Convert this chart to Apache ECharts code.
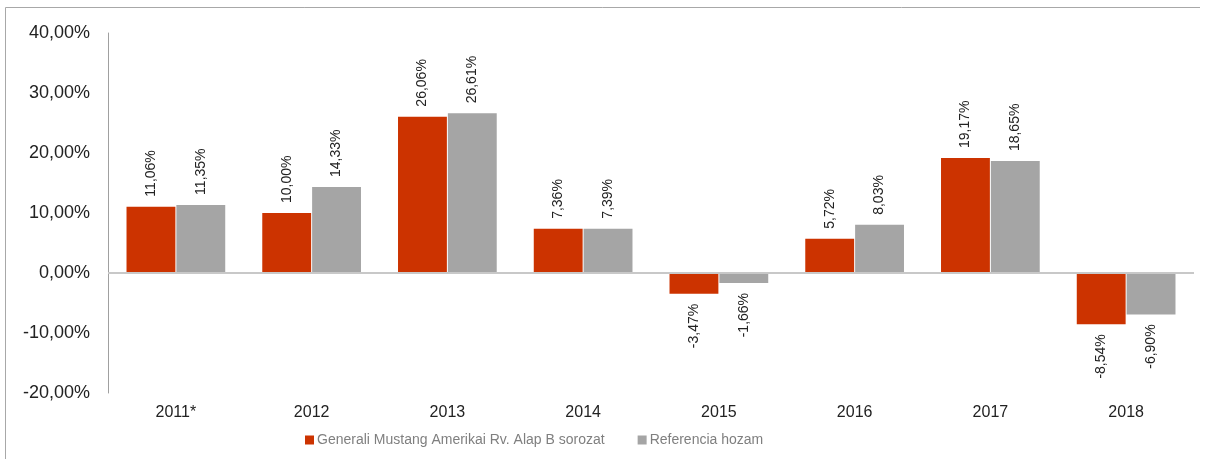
<!DOCTYPE html>
<html><head><meta charset="utf-8">
<script src="https://cdn.jsdelivr.net/npm/echarts@6/dist/echarts.min.js"></script>
<style>html,body{margin:0;padding:0;background:#fff;}#c{width:1210px;height:459px;}</style>
</head><body><div id="c"></div>
<script>
const categories = ['2011*','2012','2013','2014','2015','2016','2017','2018'];
const fundValues = [11.06, 10.00, 26.06, 7.36, -3.47, 5.72, 19.17, -8.54];
const refValues = [11.35, 14.33, 26.61, 7.39, -1.66, 8.03, 18.65, -6.90];
const seriesNames = ['Generali Mustang Amerikai Rv. Alap B sorozat', 'Referencia hozam'];
const yTicks = { min: -20, max: 40, interval: 10 };

const fmt = v => v.toFixed(2).replace('.', ',') + '%';
const FONT = "'Liberation Sans', Arial, sans-serif";

function makeData(vals) {
  return vals.map(v => ({
    value: v,
    label: v >= 0
      ? { position: 'top', align: 'left', verticalAlign: 'middle' }
      : { position: 'bottom', align: 'right', verticalAlign: 'middle' }
  }));
}
const labelBase = {
  show: true, rotate: 90, distance: 10, fontSize: 14, color: '#222', fontFamily: FONT,
  formatter: p => fmt(p.value)
};

const chart = echarts.init(document.getElementById('c'), null, { renderer: 'canvas' });
chart.setOption({
  animation: false,
  backgroundColor: '#fff',
  grid: { left: 108, right: 16, top: 33, bottom: 66, containLabel: false },
  legend: {
    left: 300, top: 428, itemWidth: 9, itemHeight: 9, itemGap: 33,
    icon: 'rect',
    textStyle: { fontSize: 14, color: '#7f7f7f', fontFamily: FONT, padding: [0, 0, 0, -2] },
    data: seriesNames
  },
  xAxis: {
    type: 'category', data: categories,
    axisLine: { show: false }, axisTick: { show: false },
    axisLabel: { fontSize: 16, color: '#222', fontFamily: FONT, margin: 12 }
  },
  yAxis: {
    type: 'value', min: yTicks.min, max: yTicks.max, interval: yTicks.interval,
    axisLine: { show: true, lineStyle: { color: '#a0a0a0', width: 1 } },
    axisTick: { show: false }, splitLine: { show: false },
    axisLabel: { fontSize: 18, color: '#222', fontFamily: FONT, margin: 18, formatter: v => fmt(v) }
  },
  series: [
    {
      name: seriesNames[0], type: 'bar', data: makeData(fundValues),
      barWidth: '36%', barGap: '2%',
      itemStyle: { color: '#CC3300' },
      label: labelBase,
      markLine: {
        silent: true, symbol: 'none', label: { show: false },
        lineStyle: { color: '#c8c8c8', type: 'solid', width: 2 },
        data: [{ yAxis: 0 }]
      },
      z: 2
    },
    {
      name: seriesNames[1], type: 'bar', data: makeData(refValues),
      barWidth: '36%',
      itemStyle: { color: '#A5A5A5' },
      label: labelBase,
      z: 2
    }
  ],
  graphic: [
    { type: 'polyline', shape: { points: [[5.5, 459], [5.5, 7.5], [1200, 7.5]] },
      style: { stroke: '#a8a8a8', lineWidth: 1, fill: null }, silent: true }
  ]
});
</script></body></html>
